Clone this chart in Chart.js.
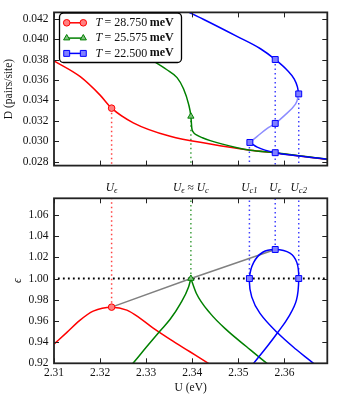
<!DOCTYPE html>
<html lang="en">

<head>
    <meta charset="UTF-8">
    <title>Critical points D(U) and epsilon(U)</title>
    <script src="https://cdn.jsdelivr.net/npm/chart.js@4.4.1/dist/chart.umd.min.js"></script>
    <style>
        body {
            margin: 0;
            background: #fff;
        }

        .wrap {
            position: relative;
            width: 338px;
            height: 400px;
        }

        #topChart {
            position: absolute;
            left: 0;
            top: 0;
        }

        #botChart {
            position: absolute;
            left: 0;
            top: 178px;
        }
    </style>
</head>

<body>
    <div class="wrap">
        <canvas id="topChart" width="338" height="178"></canvas>
        <canvas id="botChart" width="338" height="222"></canvas>
    </div>
    <script>
        // ---- data ----
        const U_TICKS = [2.31, 2.32, 2.33, 2.34, 2.35, 2.36];
        const D_TICKS = [0.028, 0.030, 0.032, 0.034, 0.036, 0.038, 0.040, 0.042];
        const EPS_TICKS = [0.92, 0.94, 0.96, 0.98, 1.00, 1.02, 1.04, 1.06];
        const U_RANGE = [2.31, 2.3693];
        const D_RANGE = [0.02764, 0.0426];
        const EPS_RANGE = [0.92, 1.0757];

        const TEMPS = ['28.750', '25.575', '22.500'];

        // top panel, D (pairs/site) vs U (eV)
        const RED_U = [2.3100, 2.3157, 2.3200, 2.3225, 2.3272, 2.3352, 2.3439, 2.3526, 2.3580, 2.3693];
        const RED_D = [0.03786, 0.03632, 0.03452, 0.03325, 0.03182, 0.03050, 0.02975, 0.02914, 0.02888, 0.02824];
        const GREEN_U = [2.3120, 2.3200, 2.3265, 2.3310, 2.3345, 2.3367, 2.3381, 2.3392, 2.3397, 2.3399, 2.3402, 2.3410, 2.3422, 2.3439, 2.3497, 2.3526, 2.3580, 2.3693];
        const GREEN_D = [0.04290, 0.04092, 0.03921, 0.03800, 0.03700, 0.03623, 0.03515, 0.03365, 0.03245, 0.03130, 0.03092, 0.03062, 0.03036, 0.03008, 0.02939, 0.02914, 0.02890, 0.02826];
        const BLUE_UP_U = [2.3370, 2.3425, 2.3497, 2.3548, 2.3580, 2.3606, 2.3621, 2.3628, 2.3631];
        const BLUE_UP_D = [0.04310, 0.04191, 0.04026, 0.03905, 0.03800, 0.03695, 0.03610, 0.03535, 0.03464];
        const BLUE_MID_U = [2.3631, 2.3624, 2.3598, 2.3580, 2.3562, 2.3541, 2.3525];
        const BLUE_MID_D = [0.03464, 0.03365, 0.03245, 0.03176, 0.03125, 0.03050, 0.02990];
        const BLUE_LOW_U = [2.3525, 2.3541, 2.3580, 2.3628, 2.3693];
        const BLUE_LOW_D = [0.02990, 0.02945, 0.02890, 0.02860, 0.02826];
        const BLUE_MARK_U = [2.3580, 2.3631, 2.3580, 2.3525, 2.3580];
        const BLUE_MARK_D = [0.03800, 0.03464, 0.03176, 0.02990, 0.02890];

        // bottom panel, epsilon vs U (eV)
        const RED_EPS_U = [2.3100, 2.3128, 2.3156, 2.3185, 2.3225, 2.3258, 2.3287, 2.3316, 2.3352, 2.3395, 2.3435, 2.3460];
        const RED_EPS = [0.9381, 0.9492, 0.9605, 0.9692, 0.9730, 0.9702, 0.9624, 0.9529, 0.9426, 0.9309, 0.9200, 0.9130];
        const GREEN_L_U = [2.3260, 2.3271, 2.3301, 2.3330, 2.3352, 2.3374, 2.3392, 2.3397];
        const GREEN_L_EPS = [0.9150, 0.9199, 0.9356, 0.9505, 0.9615, 0.9760, 0.9921, 1.0000];
        const GREEN_R_U = [2.3397, 2.3409, 2.3439, 2.3475, 2.3518, 2.3562, 2.3580];
        const GREEN_R_EPS = [1.0000, 0.9859, 0.9671, 0.9513, 0.9356, 0.9199, 0.9140];
        const BLUE_EPS_U = [2.3526, 2.3533, 2.3562, 2.3585, 2.3609, 2.3626, 2.3631, 2.3627, 2.3612, 2.3580, 2.3553, 2.3533, 2.3524, 2.3529, 2.3547, 2.3585, 2.3627, 2.3663, 2.3670];
        const BLUE_EPS = [0.9160, 0.9199, 0.9356, 0.9488, 0.9639, 0.9796, 1.0000, 1.0150, 1.0240, 1.0274, 1.0248, 1.0150, 1.0000, 0.9827, 0.9671, 0.9488, 0.9325, 0.9199, 0.9160];
        const PEAK_U = [2.3225, 2.3397, 2.3580];
        const PEAK_EPS = [0.9730, 1.0000, 1.0274];

        // critical points: guides + labels between panels
        const CRIT_U = [2.3225, 2.3397, 2.3524, 2.3580, 2.3631];
        const CRIT_D = [0.03325, 0.03245, 0.02990, 0.03800, 0.03464];
        const CRIT_EPS = [0.9730, 1.0000, 1.0000, 1.0274, 1.0000];
        const CRIT_LABELS = ['U_ϵ', 'U_ϵ ≈ U_c', 'U_c1', 'U_ϵ', 'U_c2'];
        const CRIT_SERIES = [0, 1, 2, 2, 2];

        // ---- styles ----
        const SERIF = "'Liberation Serif', 'DejaVu Serif', serif";
        const FS = 11.5;
        const STYLES = [
            { color: '#ff0000', face: '#ff8080', shape: 'circle', r: 3.3 },
            { color: '#008000', face: '#80c080', shape: 'triangle', r: 3.6 },
            { color: '#0000ff', face: '#8080ff', shape: 'rect', r: 4.2 }
        ];
        const GUIDE_COLORS = ['rgba(255,0,0,0.75)', 'rgba(0,128,0,0.75)', 'rgba(0,0,255,0.75)'];

        const pts = (us, vs) => us.map((u, i) => ({ x: u, y: vs[i] }));

        // smooth = 'monotone' for curves running one way in U, bezier for the loop
        function curve(us, vs, color, order, smooth) {
            const ds = {
                data: pts(us, vs), showLine: true, borderColor: color, borderWidth: 1.5,
                pointRadius: 0, order: order, tension: 0
            };
            if (smooth === 'monotone') {
                ds.cubicInterpolationMode = 'monotone';
                ds.tension = 0.4;
            } else if (smooth === 'bezier') {
                ds.tension = 0.4;
            }
            return ds;
        }

        function marks(us, vs, s) {
            return {
                data: pts(us, vs), showLine: false, pointStyle: s.shape, pointRadius: s.r,
                pointBackgroundColor: s.face, pointBorderColor: s.color, pointBorderWidth: 1, order: 0
            };
        }

        function guide(u, a, b, color) {
            return {
                data: [{ x: u, y: a }, { x: u, y: b }], showLine: true, borderColor: color,
                borderWidth: 1.5, borderDash: [1.5, 3], pointRadius: 0, order: 6
            };
        }

        function font(size, style, weight) {
            return (style || '') + ' ' + (weight || '') + ' ' + size + 'px ' + SERIF;
        }

        function drawRuns(ctx, runs, x, y, align) {
            let w = 0;
            runs.forEach(r => { ctx.font = r.font; r.w = ctx.measureText(r.t).width; w += r.w; });
            let cx = align === 'center' ? x - w / 2 : x;
            ctx.textAlign = 'left';
            ctx.textBaseline = 'middle';
            ctx.fillStyle = '#111';
            runs.forEach(r => { ctx.font = r.font; ctx.fillText(r.t, cx, y + (r.dy || 0)); cx += r.w; });
        }

        // 'U_c1' -> italic U with small subscript
        function mathRuns(s) {
            const runs = [];
            s.split(/(U_[^ ]+)/).forEach(p => {
                if (!p) return;
                if (p.startsWith('U_')) {
                    runs.push({ t: 'U', font: font(FS, 'italic') });
                    runs.push({ t: p.slice(2), font: font(8.5, 'italic'), dy: 3 });
                } else {
                    runs.push({ t: p, font: font(FS) });
                }
            });
            return runs;
        }

        // inward ticks on all four sides + frame
        const axesFrame = {
            id: 'axesFrame',
            afterDatasetsDraw(chart) {
                const { ctx, chartArea: a, scales: { x, y } } = chart;
                ctx.save();
                ctx.strokeStyle = '#222';
                ctx.lineWidth = 1;
                ctx.beginPath();
                x.ticks.forEach(t => {
                    const px = Math.round(x.getPixelForValue(t.value)) + 0.5;
                    ctx.moveTo(px, a.bottom); ctx.lineTo(px, a.bottom - 5);
                    ctx.moveTo(px, a.top); ctx.lineTo(px, a.top + 5);
                });
                y.ticks.forEach(t => {
                    const py = Math.round(y.getPixelForValue(t.value)) + 0.5;
                    ctx.moveTo(a.left, py); ctx.lineTo(a.left + 5, py);
                    ctx.moveTo(a.right, py); ctx.lineTo(a.right - 5, py);
                });
                ctx.stroke();
                ctx.lineWidth = 1.8;
                ctx.strokeRect(a.left, a.top, a.right - a.left, a.bottom - a.top);
                ctx.restore();
            }
        };

        const legendBox = {
            id: 'legendBox',
            afterDraw(chart) {
                const ctx = chart.ctx;
                const x0 = 59.5, y0 = 13, w = 122, h = 49.5, r = 4;
                ctx.save();
                ctx.beginPath();
                ctx.moveTo(x0 + r, y0);
                ctx.arcTo(x0 + w, y0, x0 + w, y0 + h, r);
                ctx.arcTo(x0 + w, y0 + h, x0, y0 + h, r);
                ctx.arcTo(x0, y0 + h, x0, y0, r);
                ctx.arcTo(x0, y0, x0 + w, y0, r);
                ctx.closePath();
                ctx.fillStyle = '#fff';
                ctx.fill();
                ctx.strokeStyle = '#000';
                ctx.lineWidth = 1.3;
                ctx.stroke();
                TEMPS.forEach((t, i) => {
                    const s = STYLES[i];
                    const y = 22.8 + i * 15.3;
                    ctx.strokeStyle = s.color;
                    ctx.lineWidth = 1.5;
                    ctx.beginPath();
                    ctx.moveTo(65, y);
                    ctx.lineTo(85, y);
                    ctx.stroke();
                    ctx.fillStyle = s.face;
                    ctx.lineWidth = 1;
                    [66.7, 83.3].forEach(px => Chart.helpers.drawPoint(ctx,
                        { pointStyle: s.shape, radius: s.r, rotation: 0, borderWidth: 1 }, px, y));
                    drawRuns(ctx, [
                        { t: 'T', font: font(12, 'italic') },
                        { t: '\u2009= ' + t + '\u2009', font: font(12) },
                        { t: 'meV', font: font(12, '', 'bold') }
                    ], 95.5, y, 'left');
                });
                ctx.restore();
            }
        };

        const critLabels = {
            id: 'critLabels',
            afterDraw(chart) {
                const { ctx, chartArea: a, scales: { x } } = chart;
                ctx.save();
                CRIT_LABELS.forEach((s, i) => {
                    drawRuns(ctx, mathRuns(s), x.getPixelForValue(CRIT_U[i]), a.top - 10.5, 'center');
                });
                ctx.restore();
            }
        };

        function uScale(labels) {
            return {
                type: 'linear', min: U_RANGE[0], max: U_RANGE[1],
                grid: { display: false, drawTicks: false }, border: { display: false },
                afterBuildTicks: s => { s.ticks = U_TICKS.map(v => ({ value: v })); },
                afterFit: s => { s.height = labels ? 36.7 : 0; },
                ticks: {
                    display: labels, autoSkip: false, maxRotation: 0, padding: 3, color: '#111',
                    font: { family: SERIF, size: FS }, callback: v => v.toFixed(2)
                },
                title: {
                    display: labels, text: 'U (eV)', color: '#111',
                    font: { family: SERIF, size: FS }, padding: { top: 0, bottom: 4.8 }
                }
            };
        }

        function vScale(range, ticks, digits, title, titlePad, titleStyle) {
            return {
                type: 'linear', min: range[0], max: range[1],
                grid: { display: false, drawTicks: false }, border: { display: false },
                afterBuildTicks: s => { s.ticks = ticks.map(v => ({ value: v })); },
                afterFit: s => { s.width = 54; },
                ticks: {
                    padding: 5.5, color: '#111', font: { family: SERIF, size: FS },
                    callback: v => v.toFixed(digits)
                },
                title: {
                    display: true, text: title, color: '#111',
                    font: { family: SERIF, size: FS, style: titleStyle || 'normal' },
                    padding: { top: titlePad, bottom: 0 }
                }
            };
        }

        const common = {
            responsive: false,
            animation: false,
            plugins: { legend: { display: false }, tooltip: { enabled: false } }
        };

        // ---- top panel ----
        const topDatasets = [
            marks(RED_U.slice(3, 4), RED_D.slice(3, 4), STYLES[0]),
            marks(GREEN_U.slice(8, 9), GREEN_D.slice(8, 9), STYLES[1]),
            marks(BLUE_MARK_U, BLUE_MARK_D, STYLES[2]),
            curve(BLUE_UP_U, BLUE_UP_D, '#0000ff', 1, 'monotone'),
            curve(BLUE_MID_U, BLUE_MID_D, 'rgba(0,0,255,0.45)', 1, 'bezier'),
            curve(BLUE_LOW_U, BLUE_LOW_D, '#0000ff', 1, 'monotone'),
            curve(GREEN_U, GREEN_D, '#008000', 2, 'monotone'),
            curve(RED_U, RED_D, '#ff0000', 3, 'monotone')
        ];
        CRIT_U.forEach((u, i) => topDatasets.push(guide(u, CRIT_D[i], D_RANGE[0] - 0.001, GUIDE_COLORS[CRIT_SERIES[i]])));

        new Chart(document.getElementById('topChart'), {
            type: 'scatter',
            data: { datasets: topDatasets },
            options: Object.assign({}, common, {
                layout: { padding: { left: 0, right: 10.7, top: 7.3, bottom: 4.7 } },
                scales: {
                    x: uScale(false),
                    y: vScale(D_RANGE, D_TICKS, 3, 'D (pairs/site)', 2.4)
                }
            }),
            plugins: [axesFrame, legendBox]
        });

        // ---- bottom panel ----
        const botDatasets = [
            marks(PEAK_U.slice(0, 1), PEAK_EPS.slice(0, 1), STYLES[0]),
            marks(PEAK_U.slice(1, 2), PEAK_EPS.slice(1, 2), STYLES[1]),
            marks(CRIT_U.slice(2), CRIT_EPS.slice(2), STYLES[2]),
            curve(BLUE_EPS_U, BLUE_EPS, '#0000ff', 1, 'bezier'),
            curve(GREEN_L_U, GREEN_L_EPS, '#008000', 2, 'monotone'),
            curve(GREEN_R_U, GREEN_R_EPS, '#008000', 2, 'monotone'),
            curve(RED_EPS_U, RED_EPS, '#ff0000', 3, 'monotone'),
            curve(PEAK_U, PEAK_EPS, '#808080', 4),
            {
                data: [{ x: 2.30, y: 1 }, { x: 2.38, y: 1 }], showLine: true, borderColor: '#000',
                borderWidth: 1.8, borderDash: [1.8, 3.2], pointRadius: 0, order: 7
            }
        ];
        CRIT_U.forEach((u, i) => botDatasets.push(guide(u, CRIT_EPS[i], EPS_RANGE[1] + 0.01, GUIDE_COLORS[CRIT_SERIES[i]])));

        new Chart(document.getElementById('botChart'), {
            type: 'scatter',
            data: { datasets: botDatasets },
            options: Object.assign({}, common, {
                layout: { padding: { left: 0, right: 10.7, top: 20.3, bottom: 0 } },
                scales: {
                    x: uScale(true),
                    y: vScale(EPS_RANGE, EPS_TICKS, 2, 'ϵ', 11.4, 'italic')
                }
            }),
            plugins: [axesFrame, critLabels]
        });
    </script>
</body>

</html>
